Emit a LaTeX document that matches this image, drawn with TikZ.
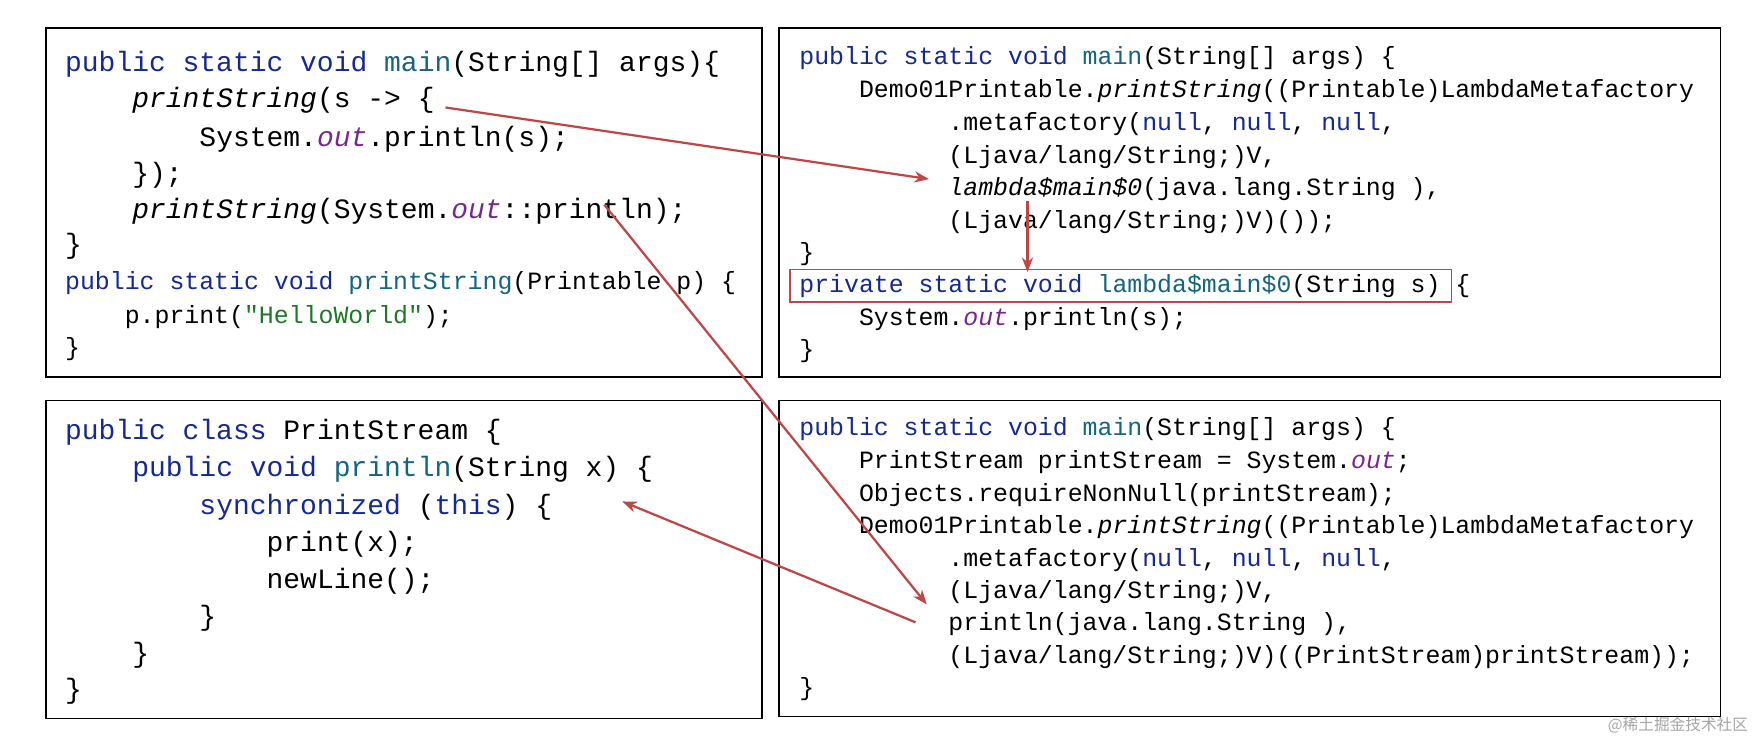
\documentclass[tikz,border=0pt]{standalone}
\usepackage{fontspec}
\setmonofont{Liberation Mono}
\newfontfamily\cjk{Noto Sans CJK SC}
\usetikzlibrary{arrows.meta}
\definecolor{kwc}{RGB}{20,40,150}
\definecolor{mtc}{RGB}{20,100,130}
\definecolor{puc}{RGB}{120,40,140}
\definecolor{stc}{RGB}{30,120,40}
\definecolor{arc}{RGB}{192,70,70}
\newcommand{\kw}[1]{\textcolor{kwc}{#1}}
\newcommand{\mt}[1]{\textcolor{mtc}{#1}}
\newcommand{\ii}[1]{\textit{#1}}
\newcommand{\pu}[1]{\textcolor{puc}{\textit{#1}}}
\newcommand{\st}[1]{\textcolor{stc}{#1}}
\begin{document}
\begin{tikzpicture}[x=1pt,y=-1pt,
 box/.style={draw=black,line width=1.3pt},
 big/.style={anchor=west,inner sep=0pt,font=\fontsize{25}{25}\ttfamily},
 sml/.style={anchor=west,inner sep=0pt,font=\fontsize{22.2}{22}\ttfamily},
 arr/.style={draw=arc,line width=2pt,-{Stealth[length=13pt,width=10pt]}}]
\useasboundingbox (0,0) rectangle (1568,662);
\fill[white] (0,0) rectangle (1568,662);
\draw[box] (41,25) rectangle (681,337);
\draw[box] (696,25) rectangle (1537,337);
\draw[box] (41,358) rectangle (681,642);
\draw[box] (696,358) rectangle (1537,640);
% top left
\node[big] (a1) at (58,57) {\kw{public static void} \mt{main}(String[] args)\{};
\node[big] (a2) at (58,90) {\phantom{xxxx}\ii{printString}(s -> \{};
\node[big] (a3) at (58,124) {\phantom{xxxxxxxx}System.\pu{out}.println(s);};
\node[big] (a4) at (58,157) {\phantom{xxxx}\});};
\node[big] (a5) at (58,189) {\phantom{xxxx}\ii{printString}(System.\pu{out}::println);};
\node[big] (a6) at (58,220) {\}};
\node[sml] (a7) at (58,253) {\kw{public static void} \mt{printString}(Printable p) \{};
\node[sml] (a8) at (58,283) {\phantom{xxxx}p.print(\st{"HelloWorld"});};
\node[sml] (a9) at (58,312) {\}};
% top right
\node[sml] (b1) at (714,52) {\kw{public static void} \mt{main}(String[] args) \{};
\node[sml] (b2) at (714,81) {\phantom{xxxx}Demo01Printable.\ii{printString}((Printable)LambdaMetafactory};
\node[sml] (b3) at (714,111) {\phantom{xxxxxxxxxx}.metafactory(\kw{null}, \kw{null}, \kw{null},};
\node[sml] (b4) at (714,140) {\phantom{xxxxxxxxxx}(Ljava/lang/String;)V,};
\node[sml] (b5) at (714,169) {\phantom{xxxxxxxxxx}\ii{lambda\$main\$0}(java.lang.String ),};
\node[sml] (b6) at (714,198) {\phantom{xxxxxxxxxx}(Ljava/lang/String;)V)());};
\node[sml] (b7) at (714,227) {\}};
\node[sml] (b8) at (714,256) {\kw{private static void} \mt{lambda\$main\$0}(String s) \{};
\node[sml] (b9) at (714,285) {\phantom{xxxx}System.\pu{out}.println(s);};
\node[sml] (b10) at (714,314) {\}};
\draw[draw=arc,line width=1.3pt] (706,241) rectangle (1297,270);
% bottom left
\node[big] (c1) at (58,386) {\kw{public class} PrintStream \{};
\node[big] (c2) at (58,419) {\phantom{xxxx}\kw{public void} \mt{println}(String x) \{};
\node[big] (c3) at (58,453) {\phantom{xxxxxxxx}\kw{synchronized} (\kw{this}) \{};
\node[big] (c4) at (58,486) {\phantom{xxxxxxxxxxxx}print(x);};
\node[big] (c5) at (58,519) {\phantom{xxxxxxxxxxxx}newLine();};
\node[big] (c6) at (58,552) {\phantom{xxxxxxxx}\}};
\node[big] (c7) at (58,585) {\phantom{xxxx}\}};
\node[big] (c8) at (58,618) {\}};
% bottom right
\node[sml] (d1) at (714,383) {\kw{public static void} \mt{main}(String[] args) \{};
\node[sml] (d2) at (714,413) {\phantom{xxxx}PrintStream printStream = System.\pu{out};};
\node[sml] (d3) at (714,442) {\phantom{xxxx}Objects.requireNonNull(printStream);};
\node[sml] (d4) at (714,471) {\phantom{xxxx}Demo01Printable.\ii{printString}((Printable)LambdaMetafactory};
\node[sml] (d5) at (714,500) {\phantom{xxxxxxxxxx}.metafactory(\kw{null}, \kw{null}, \kw{null},};
\node[sml] (d6) at (714,529) {\phantom{xxxxxxxxxx}(Ljava/lang/String;)V,};
\node[sml] (d7) at (714,558) {\phantom{xxxxxxxxxx}println(java.lang.String ),};
\node[sml] (d8) at (714,587) {\phantom{xxxxxxxxxx}(Ljava/lang/String;)V)((PrintStream)printStream));};
\node[sml] (d9) at (714,616) {\}};
\node[anchor=east,inner sep=0pt,text=gray!70,font=\cjk\fontsize{14}{14}\selectfont] (wm) at (1562,648) {@稀土掘金技术社区};
% arrows
\coordinate (p1) at (398,96); \coordinate (q1) at (830,160);
\coordinate (p2) at (540,183); \coordinate (q2) at (828,540);
\coordinate (p3) at (918,180); \coordinate (q3) at (918,243);
\coordinate (p4) at (818,556); \coordinate (q4) at (556,448);
\draw[arr] (p1) -- (q1);
\draw[arr] (p2) -- (q2);
\draw[arr] (p3) -- (q3);
\draw[arr] (p4) -- (q4);
\end{tikzpicture}
\end{document}
